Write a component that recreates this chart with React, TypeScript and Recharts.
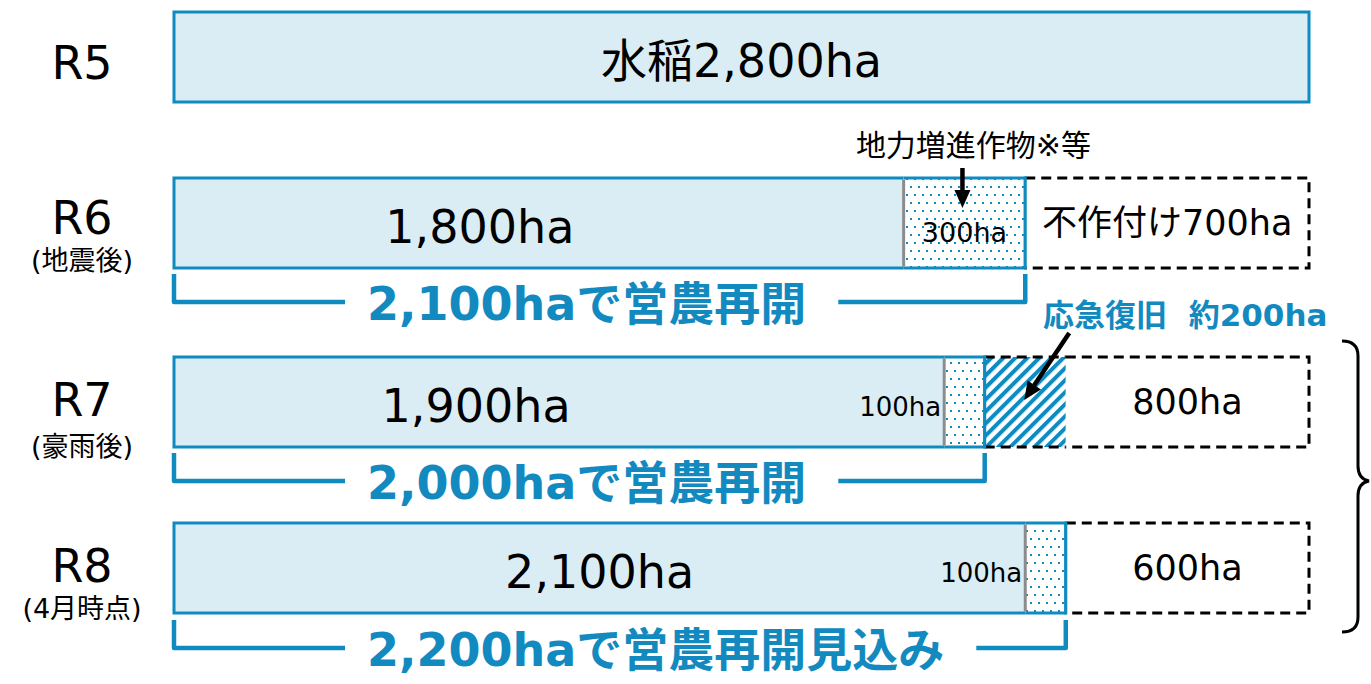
import { Bar, BarChart, XAxis, YAxis } from "recharts";

// 作付面積 (ha)
const rowNames = ["R5", "R6", "R7", "R8"];
const rowNotes = ["", "(地震後)", "(豪雨後)", "(4月時点)"];
const riceArea = [2800, 1800, 1900, 2100];
const soilCropArea = [0, 300, 100, 100];
const emergencyArea = [0, 0, 200, 0];
const idleArea = [0, 700, 800, 600]; // R7: the 800ha box includes the 200ha emergency part
const resumeArea = [0, 2100, 2000, 2200];

const riceLabels = ["水稲2,800ha", "1,800ha", "1,900ha", "2,100ha"];
const soilLabels = ["", "300ha", "100ha", "100ha"];
const idleLabels = ["", "不作付け700ha", "800ha", "600ha"];
const resumeLabels = ["", "2,100haで営農再開", "2,000haで営農再開", "2,200haで営農再開見込み"];
const soilNotes = ["", "地力増進作物※等", "", ""];
const emergencyNotes = ["", "", "応急復旧  約200ha", ""];
const TOTAL = 2800;

// layout / style
const W = 1371;
const H = 684;
const PLOT_LEFT = 174;
const PLOT_RIGHT = 62;
const barCenters = [57, 223, 402, 568];
const bracketLines = [0, 302, 481, 648];
const riceLabelShift = [0, -59, -83, 0];
const rowLabelShift = [6, -5, -2, -2];
const rowNoteShift = [0, 37, 44, 40];

const BLUE = "#0f8bc0";
const TEXT_BLUE = "#138abf";
const LIGHT = "#daedf5";
const GRAY = "#8c8c8c";
const FONT = "'DejaVu Sans', 'Noto Sans CJK JP', sans-serif";
const DASH = "10 6";

const measure = (text: string, font: string) => {
  const ctx = document.createElement("canvas").getContext("2d");
  if (!ctx) return text.length * 30;
  ctx.font = font;
  return ctx.measureText(text).width;
};

const Arrow = ({ x1, y1, x2, y2 }: { x1: number; y1: number; x2: number; y2: number }) => {
  const len = Math.hypot(x2 - x1, y2 - y1);
  const ux = (x2 - x1) / len;
  const uy = (y2 - y1) / len;
  const head = 18;
  const half = 8;
  const bx = x2 - ux * head;
  const by = y2 - uy * head;
  return (
    <g>
      <line x1={x1} y1={y1} x2={bx + ux * 2} y2={by + uy * 2} stroke="#000" strokeWidth={4.5} />
      <polygon
        points={`${x2},${y2} ${bx - uy * half},${by + ux * half} ${bx + uy * half},${by - ux * half}`}
        fill="#000"
      />
    </g>
  );
};

const RiceShape = (props: any) => {
  const { x, y, width: w, height: h, row } = props;
  if (!w || w <= 0) return <g />;
  const closes = soilCropArea[row] + idleArea[row] === 0;
  return (
    <g>
      <rect x={x} y={y} width={w} height={h} fill={LIGHT} />
      <path
        d={`M${x + w},${y} L${x},${y} L${x},${y + h} L${x + w},${y + h}${closes ? " Z" : ""}`}
        fill="none"
        stroke={BLUE}
        strokeWidth={3}
      />
      <text
        x={x + w / 2 + riceLabelShift[row]}
        y={y + h / 2 + 4}
        textAnchor="middle"
        dominantBaseline="central"
        fontSize={46}
        fontFamily={FONT}
        fill="#000"
      >
        {riceLabels[row]}
      </text>
    </g>
  );
};

const SoilShape = (props: any) => {
  const { x, y, width: w, height: h, row } = props;
  if (!w || w <= 0) return <g />;
  const inside = w > 60;
  const cx = x + w / 2;
  return (
    <g>
      <rect x={x} y={y} width={w} height={h} fill="url(#dots)" />
      <line x1={x} y1={y} x2={x + w} y2={y} stroke={BLUE} strokeWidth={3} />
      <line x1={x} y1={y + h} x2={x + w} y2={y + h} stroke={BLUE} strokeWidth={3} />
      <line x1={x} y1={y + 1.5} x2={x} y2={y + h - 1.5} stroke={GRAY} strokeWidth={3} />
      <line x1={x + w} y1={y} x2={x + w} y2={y + h} stroke={BLUE} strokeWidth={3} />
      {inside ? (
        <text x={cx} y={y + h / 2 + 9} textAnchor="middle" dominantBaseline="central" fontSize={27} fontFamily={FONT}>
          {soilLabels[row]}
        </text>
      ) : (
        <text x={x - 3} y={y + h / 2 + 5} textAnchor="end" dominantBaseline="central" fontSize={26} fontFamily={FONT}>
          {soilLabels[row]}
        </text>
      )}
      {soilNotes[row] ? (
        <g>
          <text x={cx + 9} y={y - 33} textAnchor="middle" dominantBaseline="central" fontSize={30} fontFamily={FONT}>
            {soilNotes[row]}
          </text>
          <Arrow x1={cx - 2} y1={y - 10} x2={cx - 2} y2={y + 30} />
        </g>
      ) : null}
    </g>
  );
};

const EmergencyShape = (props: any) => {
  const { x, y, width: w, height: h, row } = props;
  if (!w || w <= 0) return <g />;
  const cx = x + w / 2;
  return (
    <g>
      <rect x={x} y={y} width={w} height={h} fill="url(#hatch)" />
      <line x1={x} y1={y} x2={x + w} y2={y} stroke="#000" strokeWidth={3} strokeDasharray={DASH} />
      <line x1={x} y1={y + h} x2={x + w} y2={y + h} stroke="#000" strokeWidth={3} strokeDasharray={DASH} />
      <line x1={x} y1={y - 1.5} x2={x} y2={y + h + 1.5} stroke={BLUE} strokeWidth={3} />
      {emergencyNotes[row] ? (
        <g>
          <text
            x={cx + 160}
            y={y - 42}
            textAnchor="middle"
            dominantBaseline="central"
            fontSize={31}
            fontWeight="bold"
            fontFamily={FONT}
            fill={TEXT_BLUE}
            style={{ whiteSpace: "pre" }}
          >
            {emergencyNotes[row]}
          </text>
          <Arrow x1={cx + 44} y1={y - 24} x2={cx - 1} y2={y + 43} />
        </g>
      ) : null}
    </g>
  );
};

const IdleShape = (props: any) => {
  const { x, y, width: w, height: h, row } = props;
  if (!w || w <= 0) return <g />;
  return (
    <g>
      <rect x={x} y={y} width={w} height={h} fill="#fff" />
      <path
        d={`M${x},${y} L${x + w},${y} L${x + w},${y + h} L${x},${y + h}`}
        fill="none"
        stroke="#000"
        strokeWidth={3}
        strokeDasharray={DASH}
      />
      {emergencyArea[row] === 0 ? (
        <line x1={x} y1={y - 1.5} x2={x} y2={y + h + 1.5} stroke={BLUE} strokeWidth={3} />
      ) : null}
      <text
        x={x + w / 2}
        y={y + h / 2}
        textAnchor="middle"
        dominantBaseline="central"
        fontSize={35}
        fontFamily={FONT}
      >
        {idleLabels[row]}
      </text>
    </g>
  );
};

const BracketShape = (props: any) => {
  const { x, y, width: w, height: h, row } = props;
  if (!w || w <= 0) return <g />;
  const fontSize = 46;
  const label = resumeLabels[row];
  const tx = x + 193;
  const tw = measure(label, `bold ${fontSize}px 'DejaVu Sans', 'Noto Sans CJK JP'`);
  const ly = y + h;
  const right = x + w;
  return (
    <g>
      <path
        d={`M${x},${y} L${x},${ly} L${tx - 22},${ly} M${tx + tw + 32},${ly} L${right},${ly} L${right},${y}`}
        fill="none"
        stroke={BLUE}
        strokeWidth={4.5}
        strokeLinejoin="round"
      />
      <text
        x={tx}
        y={ly + 2}
        dominantBaseline="central"
        fontSize={fontSize}
        fontWeight="bold"
        fontFamily={FONT}
        fill={TEXT_BLUE}
      >
        {label}
      </text>
    </g>
  );
};

const RowTick = (props: any) => {
  const { x, y, payload } = props;
  const i = rowNames.indexOf(payload.value);
  const cx = x - 92;
  return (
    <g>
      <text x={cx} y={y + rowLabelShift[i]} textAnchor="middle" dominantBaseline="central" fontSize={46} fontFamily={FONT} fill="#000">
        {payload.value}
      </text>
      {rowNotes[i] ? (
        <text x={cx} y={y + rowNoteShift[i]} textAnchor="middle" dominantBaseline="central" fontSize={27} fontFamily={FONT} fill="#000">
          {rowNotes[i]}
        </text>
      ) : null}
    </g>
  );
};

const layer: React.CSSProperties = { position: "absolute", left: 0, top: 0 };

const RowChart = ({ row }: { row: number }) => {
  const c = barCenters[row];
  const data = [
    {
      name: rowNames[row],
      rice: riceArea[row],
      soil: soilCropArea[row],
      emergency: emergencyArea[row],
      idle: idleArea[row] - emergencyArea[row],
    },
  ];
  return (
    <div style={layer}>
      <BarChart
        width={W}
        height={H}
        data={data}
        layout="vertical"
        margin={{ top: c - 50, bottom: H - (c + 50), left: 0, right: PLOT_RIGHT }}
      >
        <XAxis type="number" domain={[0, TOTAL]} hide />
        <YAxis
          type="category"
          dataKey="name"
          width={PLOT_LEFT}
          axisLine={false}
          tickLine={false}
          tickSize={0}
          tickMargin={0}
          tick={<RowTick />}
        />
        <Bar dataKey="rice" stackId="a" barSize={90} isAnimationActive={false} shape={(p: any) => <RiceShape {...p} row={row} />} />
        <Bar dataKey="soil" stackId="a" barSize={90} isAnimationActive={false} shape={(p: any) => <SoilShape {...p} row={row} />} />
        <Bar dataKey="emergency" stackId="a" barSize={90} isAnimationActive={false} shape={(p: any) => <EmergencyShape {...p} row={row} />} />
        <Bar dataKey="idle" stackId="a" barSize={90} isAnimationActive={false} shape={(p: any) => <IdleShape {...p} row={row} />} />
      </BarChart>
    </div>
  );
};

const BracketChart = ({ row }: { row: number }) => {
  const ly = bracketLines[row];
  const data = [{ name: rowNames[row], resume: resumeArea[row] }];
  return (
    <div style={layer}>
      <BarChart
        width={W}
        height={H}
        data={data}
        layout="vertical"
        margin={{ top: ly - 34, bottom: H - (ly + 6), left: PLOT_LEFT, right: PLOT_RIGHT }}
      >
        <XAxis type="number" domain={[0, TOTAL]} hide />
        <YAxis type="category" dataKey="name" hide />
        <Bar dataKey="resume" barSize={28} isAnimationActive={false} shape={(p: any) => <BracketShape {...p} row={row} />} />
      </BarChart>
    </div>
  );
};

export default function App() {
  return (
    <div style={{ position: "absolute", left: 0, top: 0, width: W, height: H, background: "#fff", overflow: "hidden" }}>
      <svg width={0} height={0} style={{ position: "absolute" }}>
        <defs>
          <pattern id="dots" width={16} height={16} patternUnits="userSpaceOnUse">
            <rect width={16} height={16} fill="#fff" />
            <rect x={2} y={2} width={2} height={2} fill={BLUE} />
            <rect x={10} y={2} width={2} height={2} fill={BLUE} />
            <rect x={6} y={10} width={2} height={2} fill={BLUE} />
            <rect x={14} y={10} width={2} height={2} fill={BLUE} />
          </pattern>
          <pattern id="hatch" width={8.5} height={8.5} patternUnits="userSpaceOnUse" patternTransform="rotate(45)">
            <rect width={8.5} height={8.5} fill="#fff" />
            <rect width={4} height={8.5} fill={BLUE} />
          </pattern>
        </defs>
      </svg>
      {rowNames.map((_, i) => (
        <RowChart key={`row-${i}`} row={i} />
      ))}
      {rowNames.map((_, i) => (resumeArea[i] > 0 ? <BracketChart key={`br-${i}`} row={i} /> : null))}
      <svg width={W} height={H} style={layer}>
        <path
          d="M1342,341 Q1358,341 1358,356 L1358,466 Q1358,479 1369,481 Q1358,483 1358,496 L1358,617 Q1358,632 1342,632"
          fill="none"
          stroke="#000"
          strokeWidth={3}
        />
      </svg>
    </div>
  );
}
